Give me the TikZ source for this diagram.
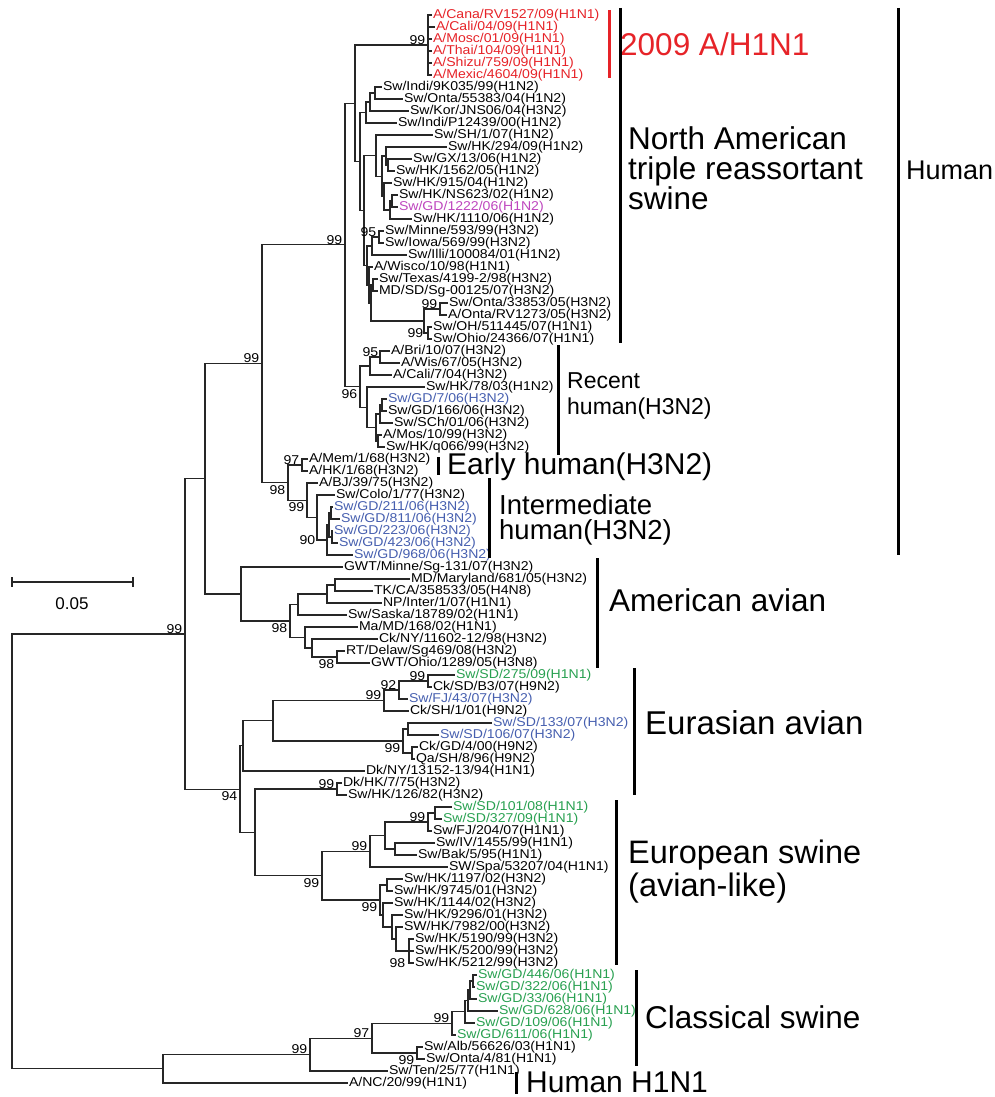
\documentclass[tikz,border=0pt]{standalone}
\usepackage{fontspec}
\setmainfont{Liberation Sans}
\newfontfamily\leaffont[FakeStretch=1.1]{Liberation Sans}
\usetikzlibrary{calc}
\definecolor{hred}{RGB}{230,35,40}
\definecolor{gdblue}{RGB}{70,95,175}
\definecolor{sdgreen}{RGB}{40,160,80}
\definecolor{hkpink}{RGB}{190,70,190}
\tikzset{
  branch/.style={line width=1.1pt, draw=black!85},
  leaf/.style={anchor=west, inner xsep=1pt, inner ysep=0pt, outer sep=0pt,
    font=\leaffont\fontsize{12.8}{12.8}\selectfont},
  boot/.style={inner sep=0.5pt, font=\leaffont\fontsize{12.8}{12.8}\selectfont},
  bar/.style={line width=3pt},
  cladelab/.style={anchor=west, align=left, inner sep=0pt,
    font=\fontsize{31.5}{30}\selectfont},
}
% internal node half way between its outer children, drawn as a bracket
\newcommand\clade[4]{%
  \path let \p1=($(#3)!.5!(#4)$) in coordinate (#1) at (#2pt,\y1);
  \draw[branch] (#3) -| (#1) |- (#4);}

\begin{document}
\begin{tikzpicture}[x=1pt,y=-1pt]
\useasboundingbox (0,0) rectangle (995,1097);

% leaves
\node[leaf,text=hred] (Cana) at (432,15) {A/Cana/RV1527/09(H1N1)};
\node[leaf,text=hred] (Cali09) at (435,27) {A/Cali/04/09(H1N1)};
\node[leaf,text=hred] (Mosc) at (432,39) {A/Mosc/01/09(H1N1)};
\node[leaf,text=hred] (Thai) at (432,51) {A/Thai/104/09(H1N1)};
\node[leaf,text=hred] (Shizu) at (432,63) {A/Shizu/759/09(H1N1)};
\node[leaf,text=hred] (Mexic) at (432,75) {A/Mexic/4604/09(H1N1)};
\node[leaf] (Indi99) at (382,87) {Sw/Indi/9K035/99(H1N2)};
\node[leaf] (Onta04) at (403,99) {Sw/Onta/55383/04(H1N2)};
\node[leaf] (Kor) at (409,111) {Sw/Kor/JNS06/04(H3N2)};
\node[leaf] (Indi00) at (397,123) {Sw/Indi/P12439/00(H1N2)};
\node[leaf] (SH07) at (433,135) {Sw/SH/1/07(H1N2)};
\node[leaf] (HK294) at (447,147) {Sw/HK/294/09(H1N2)};
\node[leaf] (GX) at (412,159) {Sw/GX/13/06(H1N2)};
\node[leaf] (HK1562) at (395,171) {Sw/HK/1562/05(H1N2)};
\node[leaf] (HK915) at (392,183) {Sw/HK/915/04(H1N2)};
\node[leaf] (HKNS) at (398,195) {Sw/HK/NS623/02(H1N2)};
\node[leaf,text=hkpink] (GD1222) at (398,207) {Sw/GD/1222/06(H1N2)};
\node[leaf] (HK1110) at (412,219) {Sw/HK/1110/06(H1N2)};
\node[leaf] (Minne) at (384,231) {Sw/Minne/593/99(H3N2)};
\node[leaf] (Iowa) at (384,243) {Sw/Iowa/569/99(H3N2)};
\node[leaf] (Illi) at (407,255) {Sw/Illi/100084/01(H1N2)};
\node[leaf] (Wisco) at (373,267) {A/Wisco/10/98(H1N1)};
\node[leaf] (Texas) at (378,279) {Sw/Texas/4199-2/98(H3N2)};
\node[leaf] (MDSD) at (378,291) {MD/SD/Sg-00125/07(H3N2)};
\node[leaf] (Onta05) at (448,303) {Sw/Onta/33853/05(H3N2)};
\node[leaf] (AOnta) at (447,315) {A/Onta/RV1273/05(H3N2)};
\node[leaf] (OH) at (432,327) {Sw/OH/511445/07(H1N1)};
\node[leaf] (Ohio) at (432,339) {Sw/Ohio/24366/07(H1N1)};
\node[leaf] (Bri) at (390,351) {A/Bri/10/07(H3N2)};
\node[leaf] (Wis) at (400,363) {A/Wis/67/05(H3N2)};
\node[leaf] (Cali04) at (392,375) {A/Cali/7/04(H3N2)};
\node[leaf] (HK78) at (425,387) {Sw/HK/78/03(H1N2)};
\node[leaf,text=gdblue] (GD7) at (387,399) {Sw/GD/7/06(H3N2)};
\node[leaf] (GD166) at (387,411) {Sw/GD/166/06(H3N2)};
\node[leaf] (SCh) at (393,423) {Sw/SCh/01/06(H3N2)};
\node[leaf] (Mos) at (382,435) {A/Mos/10/99(H3N2)};
\node[leaf] (HKq) at (385,447) {Sw/HK/q066/99(H3N2)};
\node[leaf] (Mem) at (308,459) {A/Mem/1/68(H3N2)};
\node[leaf] (HK68) at (308,471) {A/HK/1/68(H3N2)};
\node[leaf] (BJ) at (318,483) {A/BJ/39/75(H3N2)};
\node[leaf] (Colo) at (335,495) {Sw/Colo/1/77(H3N2)};
\node[leaf,text=gdblue] (GD211) at (333,507) {Sw/GD/211/06(H3N2)};
\node[leaf,text=gdblue] (GD811) at (340,519) {Sw/GD/811/06(H3N2)};
\node[leaf,text=gdblue] (GD223) at (333,531) {Sw/GD/223/06(H3N2)};
\node[leaf,text=gdblue] (GD423) at (338,543) {Sw/GD/423/06(H3N2)};
\node[leaf,text=gdblue] (GD968) at (353,555) {Sw/GD/968/06(H3N2)};
\node[leaf] (GWTMinne) at (343,567) {GWT/Minne/Sg-131/07(H3N2)};
\node[leaf] (Maryland) at (410,579) {MD/Maryland/681/05(H3N2)};
\node[leaf] (TKCA) at (373,591) {TK/CA/358533/05(H4N8)};
\node[leaf] (NPInter) at (382,603) {NP/Inter/1/07(H1N1)};
\node[leaf] (Saska) at (347,615) {Sw/Saska/18789/02(H1N1)};
\node[leaf] (MaMD) at (358,627) {Ma/MD/168/02(H1N1)};
\node[leaf] (CkNY) at (378,639) {Ck/NY/11602-12/98(H3N2)};
\node[leaf] (RTDelaw) at (345,651) {RT/Delaw/Sg469/08(H3N2)};
\node[leaf] (GWTOhio) at (370,663) {GWT/Ohio/1289/05(H3N8)};
\node[leaf,text=sdgreen] (SD275) at (455,675) {Sw/SD/275/09(H1N1)};
\node[leaf] (CkSDB3) at (432,687) {Ck/SD/B3/07(H9N2)};
\node[leaf,text=gdblue] (FJ43) at (408,699) {Sw/FJ/43/07(H3N2)};
\node[leaf] (CkSH) at (409,711) {Ck/SH/1/01(H9N2)};
\node[leaf,text=gdblue] (SD133) at (492,723) {Sw/SD/133/07(H3N2)};
\node[leaf,text=gdblue] (SD106) at (439,735) {Sw/SD/106/07(H3N2)};
\node[leaf] (CkGD) at (418,747) {Ck/GD/4/00(H9N2)};
\node[leaf] (QaSH) at (415,759) {Qa/SH/8/96(H9N2)};
\node[leaf] (DkNY) at (365,771) {Dk/NY/13152-13/94(H1N1)};
\node[leaf] (DkHK) at (342,783) {Dk/HK/7/75(H3N2)};
\node[leaf] (HK126) at (347,795) {Sw/HK/126/82(H3N2)};
\node[leaf,text=sdgreen] (SD101) at (452,807) {Sw/SD/101/08(H1N1)};
\node[leaf,text=sdgreen] (SD327) at (442,819) {Sw/SD/327/09(H1N1)};
\node[leaf] (FJ204) at (432,831) {Sw/FJ/204/07(H1N1)};
\node[leaf] (IV) at (435,843) {Sw/IV/1455/99(H1N1)};
\node[leaf] (Bak) at (417,855) {Sw/Bak/5/95(H1N1)};
\node[leaf] (Spa) at (448,867) {SW/Spa/53207/04(H1N1)};
\node[leaf] (HK1197) at (403,879) {Sw/HK/1197/02(H3N2)};
\node[leaf] (HK9745) at (393,891) {Sw/HK/9745/01(H3N2)};
\node[leaf] (HK1144) at (393,903) {Sw/HK/1144/02(H3N2)};
\node[leaf] (HK9296) at (403,915) {Sw/HK/9296/01(H3N2)};
\node[leaf] (HK7982) at (403,927) {SW/HK/7982/00(H3N2)};
\node[leaf] (HK5190) at (414,939) {Sw/HK/5190/99(H3N2)};
\node[leaf] (HK5200) at (414,951) {Sw/HK/5200/99(H3N2)};
\node[leaf] (HK5212) at (414,963) {Sw/HK/5212/99(H3N2)};
\node[leaf,text=sdgreen] (GD446) at (477,975) {Sw/GD/446/06(H1N1)};
\node[leaf,text=sdgreen] (GD322) at (475,987) {Sw/GD/322/06(H1N1)};
\node[leaf,text=sdgreen] (GD33) at (477,999) {Sw/GD/33/06(H1N1)};
\node[leaf,text=sdgreen] (GD628) at (498,1011) {Sw/GD/628/06(H1N1)};
\node[leaf,text=sdgreen] (GD109) at (475,1023) {Sw/GD/109/06(H1N1)};
\node[leaf,text=sdgreen] (GD611) at (456,1035) {Sw/GD/611/06(H1N1)};
\node[leaf] (Alb) at (423,1047) {Sw/Alb/56626/03(H1N1)};
\node[leaf] (Onta81) at (425,1059) {Sw/Onta/4/81(H1N1)};
\node[leaf] (Ten) at (388,1071) {Sw/Ten/25/77(H1N1)};
\node[leaf] (NC) at (348,1083) {A/NC/20/99(H1N1)};

% 2009 pandemic and North American swine
\clade{nRed}{428}{Cana}{Mexic}
\foreach \s in {Cali09,Mosc,Thai,Shizu} \draw[branch] (nRed) |- (\s);
\clade{nA1}{375}{Indi99}{Onta04}
\clade{nA2}{370}{nA1}{Kor}
\clade{nA3}{366}{nA2}{Indi00}
\clade{nB1}{388}{GX}{HK1562}
\clade{nB2}{386}{HK294}{nB1}
\clade{nB3}{392}{HKNS}{GD1222}
\clade{nB4}{390}{nB3}{HK1110}
\clade{nB5}{384}{HK915}{nB4}
\clade{nB6}{382}{nB2}{nB5}
\clade{nB7}{376}{SH07}{nB6}
\clade{nC1}{379}{Minne}{Iowa}
\clade{nC2}{372}{nC1}{Illi}
\clade{nD4}{373}{Texas}{MDSD}
\clade{nD1}{440}{Onta05}{AOnta}
\clade{nD2}{428}{OH}{Ohio}
\clade{nD3}{424}{nD1}{nD2}
\clade{nN4}{371}{nD4}{nD3}
\clade{nN3}{369}{Wisco}{nN4}
\clade{nN2}{367}{nC2}{nN3}
\clade{nN1}{364}{nB7}{nN2}
\clade{nN0}{360}{nA3}{nN1}
\clade{nNA}{355}{nRed}{nN0}

% recent human
\clade{nR1}{380}{Bri}{Wis}
\clade{nR2}{370}{nR1}{Cali04}
\clade{nR5}{382}{GD7}{GD166}
\clade{nR6}{380}{nR5}{SCh}
\clade{nR7}{378}{Mos}{HKq}
\clade{nR8}{376}{nR6}{nR7}
\clade{nR4}{367}{HK78}{nR8}
\clade{nR96}{360}{nR2}{nR4}
\clade{nH345}{345}{nNA}{nR96}

% early and intermediate human
\clade{nE}{302}{Mem}{HK68}
\clade{nI1}{331}{GD211}{GD811}
\clade{nI2}{332}{GD223}{GD423}
\clade{nI3}{329}{nI1}{nI2}
\clade{nI4}{327}{nI3}{GD968}
\clade{nI5}{317}{Colo}{nI4}
\clade{nI6}{307}{BJ}{nI5}
\clade{nH98}{288}{nE}{nI6}
\clade{nH262}{262}{nH345}{nH98}

% American avian
\clade{nAA6}{335}{Maryland}{TKCA}
\clade{nAA5}{327}{nAA6}{NPInter}
\clade{nAA3}{298}{nAA5}{Saska}
\clade{nAA8}{337}{RTDelaw}{GWTOhio}
\clade{nAA7}{312}{CkNY}{nAA8}
\clade{nAA4}{305}{MaMD}{nAA7}
\clade{nAA2}{290}{nAA3}{nAA4}
\clade{nAA}{241}{GWTMinne}{nAA2}
\clade{nH205}{205}{nH262}{nAA}

% Eurasian avian
\clade{nEa1}{428}{SD275}{CkSDB3}
\clade{nEa2}{399}{nEa1}{FJ43}
\clade{nEa3}{384}{nEa2}{CkSH}
\clade{nEa5}{408}{SD133}{SD106}
\clade{nEa6}{412}{CkGD}{QaSH}
\clade{nEa7}{403}{nEa5}{nEa6}
\clade{nEa8}{273}{nEa3}{nEa7}
\clade{nEa9}{243}{nEa8}{DkNY}

% European swine
\clade{nEuP}{337}{DkHK}{HK126}
\clade{nEu1}{435}{SD101}{SD327}
\clade{nEu2}{428}{nEu1}{FJ204}
\clade{nEu3}{395}{IV}{Bak}
\clade{nEu4}{385}{nEu2}{nEu3}
\clade{nEu5}{370}{nEu4}{Spa}
\clade{nHK5}{387}{HK1197}{HK9745}
\clade{nHK1}{409}{HK5190}{HK5212}
\draw[branch] (nHK1) |- (HK5200);
\clade{nHK2}{396}{HK7982}{nHK1}
\clade{nHK3}{392}{HK9296}{nHK2}
\clade{nHK4}{383}{HK1144}{nHK3}
\clade{nHK6}{380}{nHK5}{nHK4}
\clade{nEu6}{322}{nEu5}{nHK6}
\clade{nEu7}{255}{nEuP}{nEu6}
\clade{nS94}{240}{nEa9}{nEu7}
\clade{nTop}{185}{nH205}{nS94}

% classical swine and human H1N1
\clade{nCl1}{473}{GD446}{GD322}
\clade{nCl2}{470}{nCl1}{GD33}
\clade{nCl3}{468}{nCl2}{GD628}
\clade{nCl4}{465}{nCl3}{GD109}
\clade{nCl5}{452}{nCl4}{GD611}
\clade{nAlb}{417}{Alb}{Onta81}
\clade{nC97}{372}{nCl5}{nAlb}
\clade{nC99}{310}{nC97}{Ten}
\clade{nLow}{163}{nC99}{NC}
\clade{nRoot}{12}{nTop}{nLow}

% bootstrap values
\node[boot,anchor=south east] (bRed) at ([shift={(-2,0)}]nRed) {99};
\node[boot,anchor=south east] (bH345) at ([shift={(-2,0)}]nH345) {99};
\node[boot,anchor=south east] (bC1) at ([shift={(-2,0)}]nC1) {95};
\node[boot,anchor=south east] (bD1) at ([shift={(-2,0)}]nD1) {99};
\node[boot,anchor=east] (bD2) at ([shift={(-4,0)}]nD2) {99};
\node[boot,anchor=south east] (bH262) at ([shift={(-2,0)}]nH262) {99};
\node[boot,anchor=south east] (bR1) at ([shift={(-1,0)}]nR1) {95};
\node[boot,anchor=north east] (bR96) at ([shift={(-2,2)}]nR96) {96};
\node[boot,anchor=south east] (bE) at ([shift={(-2,0)}]nE) {97};
\node[boot,anchor=north east] (bH98) at ([shift={(-2,2)}]nH98) {98};
\node[boot,anchor=north east] (bI6) at ([shift={(-2,2)}]nI6) {99};
\node[boot,anchor=east] (bI4) at ([shift={(-11,0)}]nI4) {90};
\node[boot,anchor=south east] (bTop) at ([shift={(-2,0)}]nTop) {99};
\node[boot,anchor=north east] (bAA2) at ([shift={(-2,2)}]nAA2) {98};
\node[boot,anchor=north east] (bAA8) at ([shift={(-2,2)}]nAA8) {98};
\node[boot,anchor=south east] (bEa1) at ([shift={(-2,0)}]nEa1) {99};
\node[boot,anchor=south east] (bEa2) at ([shift={(-2,0)}]nEa2) {92};
\node[boot,anchor=south east] (bEa3) at ([shift={(-2,0)}]nEa3) {99};
\node[boot,anchor=north east] (bEa7) at ([shift={(-2,2)}]nEa7) {99};
\node[boot,anchor=south east] (bEuP) at ([shift={(-2,0)}]nEuP) {99};
\node[boot,anchor=north east] (bS94) at ([shift={(-2,2)}]nS94) {94};
\node[boot,anchor=south east] (bEu2) at ([shift={(-2,0)}]nEu2) {99};
\node[boot,anchor=south east] (bEu5) at ([shift={(-2,0)}]nEu5) {99};
\node[boot,anchor=north east] (bEu6) at ([shift={(-2,2)}]nEu6) {99};
\node[boot,anchor=north east] (bHK6) at ([shift={(-2,2)}]nHK6) {99};
\node[boot,anchor=east] (bHK1) at ([shift={(-3,12)}]nHK1) {98};
\node[boot,anchor=south east] (bCl5) at ([shift={(-2,0)}]nCl5) {99};
\node[boot,anchor=south east] (bC97) at ([shift={(-2,0)}]nC97) {97};
\node[boot,anchor=south east] (bC99) at ([shift={(-2,0)}]nC99) {99};
\node[boot,anchor=north east] (bAlb) at ([shift={(-2,2)}]nAlb) {99};

% scale bar
\draw[branch] (12,577) -- (12,587) (12,582) -- (133,582) (133,577) -- (133,587);
\node[font=\fontsize{17}{17}\selectfont] (scale) at (72,604) {0.05};

% lineage bars
\draw[bar,hred] (609,10) -- (609,78);
\node[cladelab,text=hred] (l2009) at (620,44) {2009 A/H1N1};
\draw[bar] (620,8) -- (620,343);
\node[cladelab] (lNA) at (628,168) {North American\\triple reassortant\\swine};
\draw[bar] (898,8) -- (898,555);
\node[cladelab,font=\fontsize{27}{27}\selectfont] (lHuman) at (906,170) {Human};
\draw[bar] (558,345) -- (558,455);
\node[cladelab,font=\fontsize{23}{26}\selectfont] (lRecent) at (567,396) {Recent\\human(H3N2)};
\draw[bar] (438,457) -- (438,475);
\node[cladelab,font=\fontsize{30}{30}\selectfont] (lEarly) at (447,467) {Early human(H3N2)};
\draw[bar] (489,478) -- (489,558);
\node[cladelab,font=\fontsize{27.5}{25}\selectfont] (lInter) at (499,520) {Intermediate\\human(H3N2)};
\draw[bar] (597,558) -- (597,668);
\node[cladelab] (lAmAv) at (609,600) {American avian};
\draw[bar] (634,668) -- (634,795);
\node[cladelab,font=\fontsize{33}{33}\selectfont] (lEuAv) at (645,723) {Eurasian avian};
\draw[bar] (616,800) -- (616,965);
\node[cladelab,font=\fontsize{32.5}{33}\selectfont] (lEuSw) at (628,872) {European swine\\(avian-like)};
\draw[bar] (636,970) -- (636,1066);
\node[cladelab] (lClass) at (645,1017) {Classical swine};
\draw[bar] (516,1072) -- (516,1094);
\node[cladelab,anchor=base west,font=\fontsize{30}{30}\selectfont] (lHH1) at (526,1092) {Human H1N1};
\end{tikzpicture}
\end{document}
